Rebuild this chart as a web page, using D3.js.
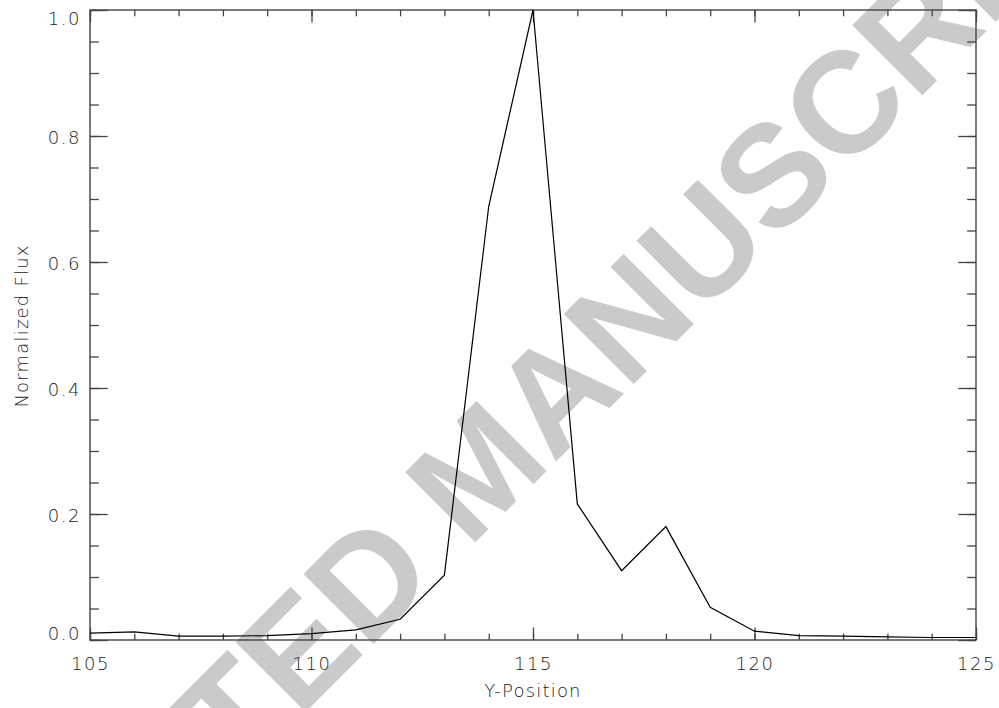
<!DOCTYPE html>
<html>
<head>
<meta charset="utf-8">
<script src="https://cdn.jsdelivr.net/npm/d3@7"></script>
<style>
  body { margin: 0; background: #fff; }
  .axis text { font-family: "DejaVu Sans", sans-serif; font-weight: 200; font-size: 18px; fill: #222; letter-spacing: 1.5px; }
  .axis line { stroke: #444; stroke-width: 1.3; }
  .axis path.domain { display: none; }
  .label { font-family: "DejaVu Sans", sans-serif; font-weight: 200; font-size: 18px; fill: #222; letter-spacing: 1.2px; }
</style>
</head>
<body>
<div class="chart"></div>
<script>
// data
const positions = [105, 106, 107, 108, 109, 110, 111, 112, 113, 114, 115,
                   116, 117, 118, 119, 120, 121, 122, 123, 124, 125];
const flux = [0.011, 0.013, 0.006, 0.006, 0.007, 0.010, 0.016, 0.033, 0.103, 0.688, 1.0,
              0.216, 0.110, 0.180, 0.052, 0.014, 0.007, 0.006, 0.005, 0.004, 0.004];

const xMajor = [105, 110, 115, 120, 125];
const xMinor = d3.range(105, 125.5, 1);
const yMajor = [0, 0.2, 0.4, 0.6, 0.8, 1.0];
const yMinor = d3.range(0, 1.001, 0.05);

const watermark = 'ACCEPTED MANUSCRIPT';

// margin convention
const margin = { top: 10, right: 23, bottom: 68, left: 90 };
const width = 999 - margin.left - margin.right;
const height = 708 - margin.top - margin.bottom;

const svg = d3.select('.chart')
  .append('svg')
  .attr('width', width + margin.left + margin.right)
  .attr('height', height + margin.top + margin.bottom);

// watermark sits behind the plot
svg.append('text')
  .attr('transform', 'translate(477,467) rotate(-45)')
  .attr('text-anchor', 'middle')
  .attr('y', 52)
  .attr('font-family', '"Liberation Sans", Arial, sans-serif')
  .attr('font-weight', 'bold')
  .attr('font-size', 144)
  .attr('fill', '#c9cacc')
  .text(watermark);

const group = svg.append('g')
  .attr('transform', 'translate(' + margin.left + ',' + margin.top + ')');

const xScale = d3.scaleLinear().domain([105, 125]).range([0, width]);
const yScale = d3.scaleLinear().domain([0, 1]).range([height, 0]);

// ticks point inward on all four sides
const xTick = 0.02 * height;
const yTick = 0.02 * width;

group.append('g').attr('class', 'x-axis axis')
  .attr('transform', 'translate(0,' + height + ')')
  .call(d3.axisBottom(xScale).tickValues(xMinor).tickSize(-xTick / 2).tickSizeOuter(0).tickFormat(''));
const xAxisGroup = group.append('g').attr('class', 'x-axis axis')
  .attr('transform', 'translate(0,' + height + ')')
  .call(d3.axisBottom(xScale).tickValues(xMajor).tickSize(-xTick).tickSizeOuter(0)
    .tickPadding(17).tickFormat(d3.format('d')));

group.append('g').attr('class', 'axis')
  .call(d3.axisTop(xScale).tickValues(xMinor).tickSize(-xTick / 2).tickSizeOuter(0).tickFormat(''));
group.append('g').attr('class', 'axis')
  .call(d3.axisTop(xScale).tickValues(xMajor).tickSize(-xTick).tickSizeOuter(0).tickFormat(''));

group.append('g').attr('class', 'y-axis axis')
  .call(d3.axisLeft(yScale).tickValues(yMinor).tickSize(-yTick / 2).tickSizeOuter(0).tickFormat(''));
const yAxisGroup = group.append('g').attr('class', 'y-axis axis')
  .call(d3.axisLeft(yScale).tickValues(yMajor).tickSize(-yTick).tickSizeOuter(0)
    .tickPadding(9).tickFormat(d3.format('.1f')));

group.append('g').attr('class', 'axis')
  .attr('transform', 'translate(' + width + ',0)')
  .call(d3.axisRight(yScale).tickValues(yMinor).tickSize(-yTick / 2).tickSizeOuter(0).tickFormat(''));
group.append('g').attr('class', 'axis')
  .attr('transform', 'translate(' + width + ',0)')
  .call(d3.axisRight(yScale).tickValues(yMajor).tickSize(-yTick).tickSizeOuter(0).tickFormat(''));

// end labels are nudged inside, like the original
yAxisGroup.selectAll('.tick text')
  .attr('dy', (d) => (d === 1 ? '0.8em' : d === 0 ? '-0.05em' : '0.4em'));

// frame
group.append('rect')
  .attr('width', width)
  .attr('height', height)
  .attr('fill', 'none')
  .attr('stroke', '#444')
  .attr('stroke-width', 1.4);

// the profile
const line = d3.line()
  .x((d, i) => xScale(positions[i]))
  .y((d) => yScale(d));

group.append('path')
  .datum(flux)
  .attr('d', line)
  .attr('fill', 'none')
  .attr('stroke', '#000')
  .attr('stroke-width', 1.2);

// axis titles
svg.append('text')
  .attr('class', 'label')
  .attr('x', margin.left + width / 2)
  .attr('y', 697)
  .attr('text-anchor', 'middle')
  .text('Y-Position');

svg.append('text')
  .attr('class', 'label')
  .attr('transform', 'translate(28,326) rotate(-90)')
  .attr('text-anchor', 'middle')
  .text('Normalized Flux');
</script>
</body>
</html>
